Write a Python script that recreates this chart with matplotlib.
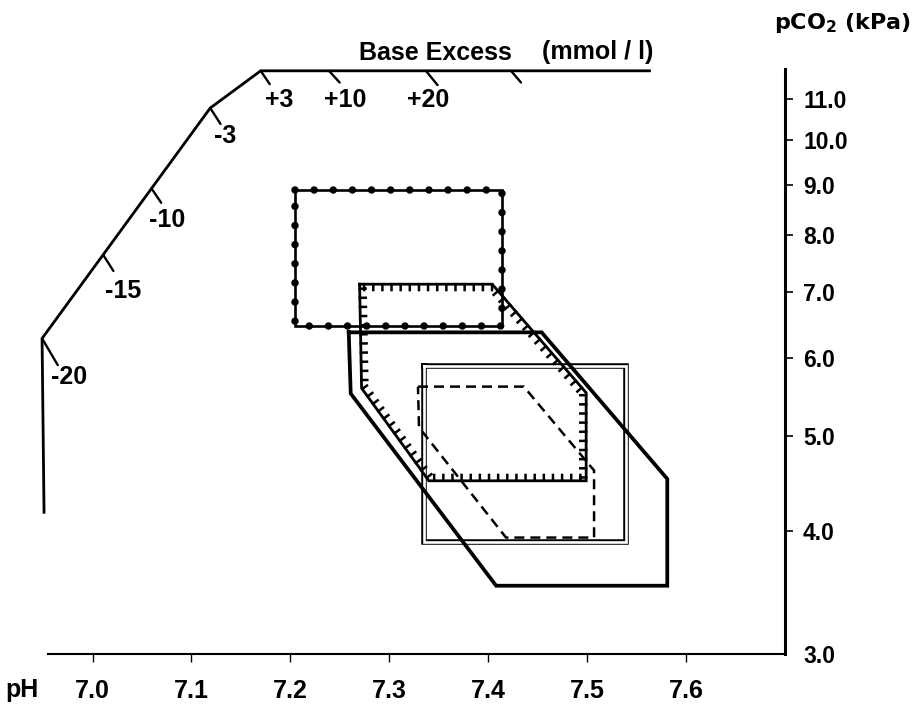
import numpy as np
import matplotlib
matplotlib.use("Agg")
import matplotlib.pyplot as plt
from matplotlib import patheffects as pe
from matplotlib.ticker import NullLocator

# ---------------- data ----------------
ph_ticks = [7.0, 7.1, 7.2, 7.3, 7.4, 7.5, 7.6]
ph_labels = ["7.0", "7.1", "7.2", "7.3", "7.4", "7.5", "7.6"]
pco2_ticks = [3.0, 4.0, 5.0, 6.0, 7.0, 8.0, 9.0, 10.0, 11.0]
pco2_labels = ["3.0", "4.0", "5.0", "6.0", "7.0", "8.0", "9.0", "10.0", "11.0"]

# Base-excess scale drawn inside the pH / pCO2 plane
be_curve_ph = [6.951, 6.949, 7.119, 7.170, 7.563]
be_curve_pco2 = [4.18, 6.28, 10.77, 11.75, 11.75]
be_labels = ["-20", "-15", "-10", "-3", "+3", "+10", "+20", ""]
be_tick_ph = [6.949, 7.011, 7.060, 7.119, 7.170, 7.239, 7.337, 7.423]
be_tick_pco2 = [6.28, 7.63, 8.91, 10.77, 11.75, 11.75, 11.75, 11.75]

# regions (pH, pCO2 vertices)
dotted_ph = [7.205, 7.414, 7.414, 7.205]
dotted_pco2 = [8.89, 8.89, 6.46, 6.46]
hatched_ph = [7.270, 7.404, 7.499, 7.499, 7.340, 7.272]
hatched_pco2 = [7.13, 7.13, 5.53, 4.50, 4.50, 5.59]
solid_ph = [7.259, 7.454, 7.581, 7.581, 7.408, 7.261]
solid_pco2 = [6.37, 6.37, 4.52, 3.52, 3.52, 5.52]
double_ph = [7.335, 7.539, 7.539, 7.335]
double_pco2 = [5.89, 5.89, 3.90, 3.90]
dashed_ph = [7.329, 7.436, 7.507, 7.507, 7.418, 7.330]
dashed_pco2 = [5.61, 5.61, 4.61, 3.94, 3.94, 5.10]

# ---------------- style ----------------
NARROW = ["Liberation Sans Narrow", "Liberation Sans", "DejaVu Sans"]
SANS = ["Liberation Sans", "DejaVu Sans"]
plt.rcParams["mathtext.default"] = "regular"

W, H = 922, 707
fig = plt.figure(figsize=(W / 100, H / 100), dpi=100)
ax = fig.add_axes([48 / W, (H - 654) / H, 737 / W, 585 / H])
ax.set_yscale("log")
ax.set_xlim(6.955, 7.70)
ax.set_ylim(3.0, 11.8)

for s in ("top", "left"):
    ax.spines[s].set_visible(False)
ax.spines["bottom"].set_linewidth(1.5)
ax.spines["right"].set_linewidth(2.2)

ax.set_xticks(ph_ticks, ph_labels)
ax.tick_params(axis="x", direction="out", length=6, width=1.0, pad=12)
for t in ax.get_xticklabels():
    t.set_fontfamily(NARROW)
    t.set_fontweight("bold")
    t.set_fontsize(18)

ax.yaxis.tick_right()
ax.yaxis.set_minor_locator(NullLocator())
ax.set_yticks(pco2_ticks, pco2_labels)
ax.yaxis.set_minor_locator(NullLocator())
ax.tick_params(axis="y", which="major", direction="out", length=6, width=1.2, pad=7)
for t in ax.get_yticklabels():
    t.set_fontfamily(SANS)
    t.set_fontweight("bold")
    t.set_fontsize(16.5)
ax.yaxis.get_major_ticks()[0].tick2line.set_visible(False)


def closed(a):
    return list(a) + [a[0]]


# Base excess curve
ax.plot(be_curve_ph, be_curve_pco2, color="black", lw=2.0, clip_on=False,
        solid_joinstyle="miter", zorder=3)
tick_off = [(11.3, -19.2), (7.2, -11.3), (6.7, -9.9), (7.4, -11.5),
            (6.5, -9.6), (7.7, -8.4), (8.4, -10.3), (7.2, -8.4)]
label_off = [(19.4, -28), (14.4, -26), (10.8, -22.3), (10.8, -20.2),
             (13.0, -20.9), (11.5, -20.9), (1.4, -20.9), (0, 0)]
for p, c, lab, to, lo in zip(be_tick_ph, be_tick_pco2, be_labels, tick_off, label_off):
    ax.annotate("", xy=(p, c), xycoords="data", xytext=to, textcoords="offset points",
                arrowprops=dict(arrowstyle="-", lw=1.7, color="black",
                                shrinkA=0, shrinkB=0),
                annotation_clip=False)
    if lab:
        ax.annotate(lab, xy=(p, c), xycoords="data", xytext=lo,
                    textcoords="offset points", ha="center", va="center",
                    fontfamily=NARROW, fontweight="bold", fontsize=18,
                    annotation_clip=False)

# dotted rectangle (line with round dots)
ax.plot(closed(dotted_ph), closed(dotted_pco2), color="black", lw=1.9,
        solid_joinstyle="miter", zorder=4)
ax.plot(closed(dotted_ph), closed(dotted_pco2), color="black", lw=5.4,
        linestyle=(0, (0.001, 2.55)), dash_capstyle="round", zorder=4)

# hatched region
ax.plot(closed(hatched_ph), closed(hatched_pco2), color="black", lw=2.0,
        solid_joinstyle="miter", zorder=5,
        path_effects=[pe.TickedStroke(spacing=6.5, angle=-90, length=0.65,
                                      linewidth=1.8),
                      pe.Normal()])

# thick solid region
ax.plot(closed(solid_ph), closed(solid_pco2), color="black", lw=2.7,
        solid_joinstyle="miter", zorder=6)

# double-line rectangle
ax.plot(closed(double_ph), closed(double_pco2), color="white", lw=1.9,
        solid_joinstyle="miter", zorder=3,
        path_effects=[pe.Stroke(linewidth=4.0, foreground="black"), pe.Normal()])

# dashed region
ax.plot(closed(dashed_ph), closed(dashed_pco2), color="black", lw=1.8,
        linestyle=(0, (4.0, 2.4)), zorder=4)

# titles
fig.text(435 / W, 1 - 53 / H, "Base Excess", ha="center", va="center",
         fontfamily=SANS, fontweight="bold", fontsize=18)
fig.text(598 / W, 1 - 52 / H, "(mmol / l)", ha="center", va="center",
         fontfamily=SANS, fontweight="bold", fontsize=18)
fig.text(843 / W, 1 - 23 / H, r"pCO$_2$ (kPa)", ha="center", va="center",
         fontfamily=["DejaVu Sans"], fontweight="bold", fontsize=16)
fig.text(22 / W, 1 - 690 / H, "pH", ha="center", va="center",
         fontfamily=SANS, fontweight="bold", fontsize=18)

fig.savefig("out.png", dpi=100)
